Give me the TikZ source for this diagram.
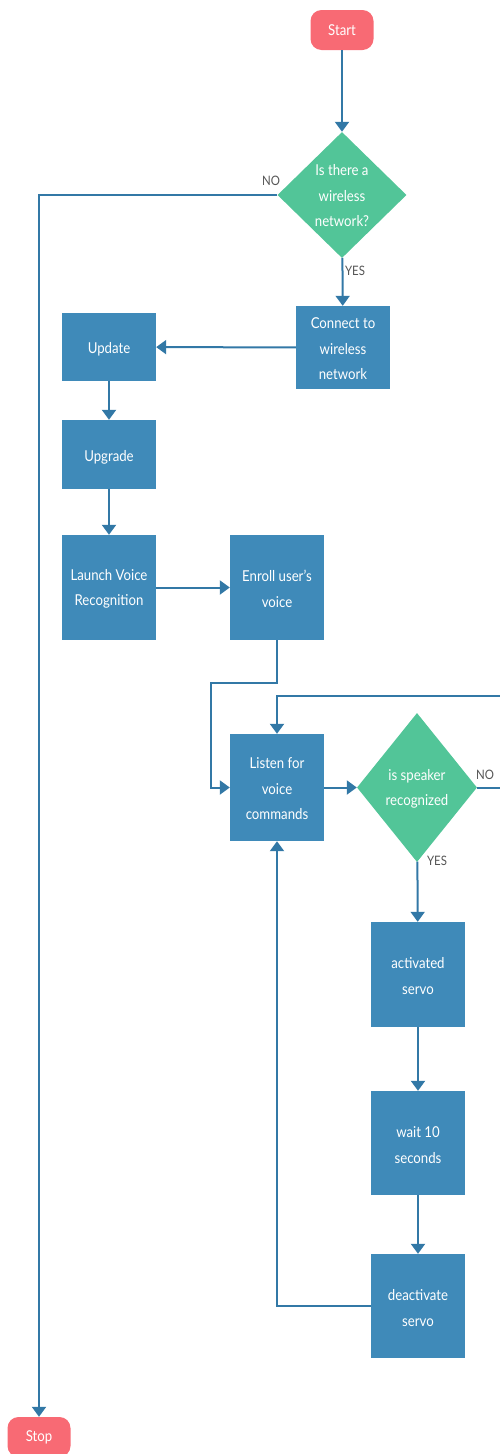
\documentclass[tikz,border=0pt]{standalone}
\usepackage{fontspec}
\setmainfont{Lato}[FakeStretch=0.88]
\usetikzlibrary{arrows.meta,shapes.geometric}
\definecolor{boxblue}{RGB}{63,138,185}
\definecolor{lineblue}{RGB}{50,120,166}
\definecolor{dgreen}{RGB}{82,197,152}
\definecolor{termred}{RGB}{248,106,116}
\definecolor{lblgray}{RGB}{85,85,85}
\tikzset{
  proc/.style={rectangle, fill=boxblue, text=white, minimum width=94pt, inner sep=0pt, align=center, font=\fontsize{15}{25.5}\selectfont},
  term/.style={rectangle, rounded corners=11pt, fill=termred, text=white, minimum width=63pt, minimum height=40pt, inner sep=0pt, font=\fontsize{15}{16}\selectfont},
  dec/.style={diamond, fill=dgreen, inner sep=0pt},
  dtext/.style={text=white, align=center, inner sep=0pt, font=\fontsize{15}{25.5}\selectfont},
  lbl/.style={text=lblgray, inner sep=0pt, font=\fontsize{13}{14}\selectfont},
  conn/.style={draw=lineblue, line width=2pt, -{Triangle[length=10pt,width=14pt]}},
  line/.style={draw=lineblue, line width=2pt}
}
\begin{document}
\begin{tikzpicture}[x=1pt,y=-1pt]
\useasboundingbox (0,0) rectangle (499,1454);
\node[term] (start) at (342,30) {Start};
\node[dec, minimum width=129pt, minimum height=126pt] (d1) at (342,195) {};
\node[dtext] (d1t) at (342,196) {Is there a\\wireless\\network?};
\node[proc, minimum height=83pt] (connect) at (343,347.5) {};
\node[proc] at (343,349) {Connect to\\wireless\\network};
\node[proc, minimum height=68pt] (update) at (109,347) {};
\node[proc] at (109,349.5) {Update};
\node[proc, minimum height=69pt] (upgrade) at (109,454.5) {};
\node[proc] at (109,457) {Upgrade};
\node[proc, minimum height=105pt] (launch) at (109,587.5) {};
\node[proc] at (109,589) {Launch Voice\\Recognition};
\node[proc, minimum height=105pt] (enroll) at (277,587.5) {};
\node[proc] at (277,589) {Enroll user's\\voice};
\node[proc, minimum height=107pt] (listen) at (277,787.5) {};
\node[proc] at (277,789) {Listen for\\voice\\commands};
\node[dec, minimum width=120pt, minimum height=149pt] (d2) at (417,787.5) {};
\node[dtext] (d2t) at (417,789) {is speaker\\recognized};
\node[proc, minimum height=105pt] (act) at (418,974.5) {};
\node[proc] at (418,976) {activated\\servo};
\node[proc, minimum height=104pt] (wait) at (418,1143) {};
\node[proc] at (418,1145) {wait 10\\seconds};
\node[proc, minimum height=104pt] (deact) at (418,1306) {};
\node[proc] at (418,1308) {deactivate\\servo};
\node[term] (stop) at (39,1437) {Stop};

\node[lbl] (no1) at (271,181) {NO};
\node[lbl] (yes1) at (355,271) {YES};
\node[lbl] (no2) at (485,775) {NO};
\node[lbl] (yes2) at (437,861) {YES};

\coordinate (j1) at (211,683);
\coordinate (j2) at (501,696);

\draw[conn] (start) -- (d1);
\draw[conn] (d1.west) -| (stop.north);
\draw[conn] (d1) -- (connect);
\draw[conn] (connect) -- (update);
\draw[conn] (update) -- (upgrade);
\draw[conn] (upgrade) -- (launch);
\draw[conn] (launch) -- (enroll);
\draw[conn] (enroll.south) |- (j1) |- (listen.west);
\draw[conn] (listen) -- (d2);
\draw[conn] (d2.east) -| (j2) -| (listen.north);
\draw[conn] (d2) -- (act);
\draw[conn] (act) -- (wait);
\draw[conn] (wait) -- (deact);
\draw[conn] (deact.west) -| (listen.south);
\end{tikzpicture}
\end{document}
